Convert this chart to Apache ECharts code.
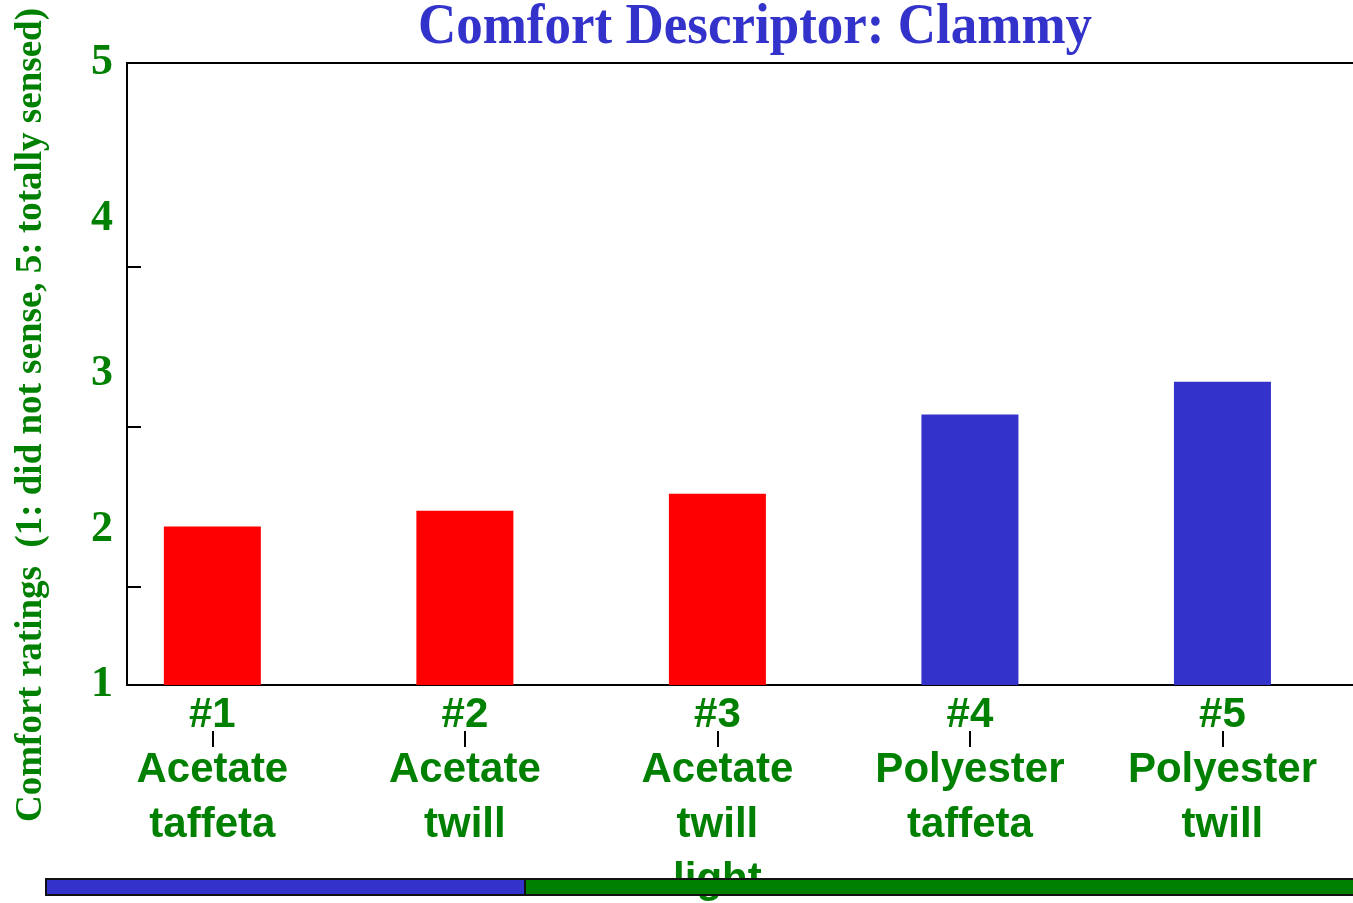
<!DOCTYPE html>
<html lang="en">
  <head>
    <meta charset="utf-8" />
    <title>Comfort Descriptor: Clammy</title>
    <script src="https://cdn.jsdelivr.net/npm/echarts@6/dist/echarts.min.js"></script>
    <style>
      html,
      body {
        margin: 0;
        padding: 0;
        background: #fff;
      }
      #main {
        width: 1353px;
        height: 903px;
      }
    </style>
  </head>
  <body>
    <div id="main"></div>
    <script>
      // fabrics
      var fabricNo = ["#1", "#2", "#3", "#4", "#5"];
      var fibre = ["Acetate", "Acetate", "Acetate", "Polyester", "Polyester"];
      var weave = ["taffeta", "twill", "twill\nlight", "taffeta", "twill"];
      // mean ratings
      var ratings = [2.02, 2.12, 2.23, 2.74, 2.95];
      // y axis
      var yLabels = [1, 2, 3, 4, 5];
      var yTickMarks = [1.63, 2.66, 3.69];

      var fibreColor = { Acetate: "#ff0000", Polyester: "#3333cc" };
      var green = "#008000";
      var positions = fabricNo.map(function (d, i) {
        return i + 1;
      });
      var xLabels = fabricNo.map(function (d, i) {
        return d + "\n" + fibre[i] + "\n" + weave[i];
      });

      var myChart = echarts.init(document.getElementById("main"));

      var xMin = 0.662;
      var xMax = 5.517;

      var option = {
        animation: false,
        grid: {
          left: 127,
          right: 0,
          top: 63,
          bottom: 218,
          outerBoundsMode: "none",
        },
        xAxis: [
          {
            type: "value",
            min: xMin,
            max: xMax,
            splitLine: { show: false },
            axisLine: { onZero: false, lineStyle: { color: "#000", width: 2 } },
            axisTick: { show: false },
            axisLabel: {
              customValues: positions,
              margin: 3,
              verticalAlign: "top",
              fontFamily: "Liberation Sans",
              fontWeight: "bold",
              fontSize: 42,
              lineHeight: 55,
              color: green,
              formatter: function (v) {
                return xLabels[Math.round(v) - 1] || "";
              },
            },
          },
          {
            // tick marks drawn lower, between the label lines
            type: "value",
            position: "bottom",
            offset: 46,
            min: xMin,
            max: xMax,
            splitLine: { show: false },
            axisLine: { show: false, onZero: false },
            axisLabel: { show: false },
            axisTick: {
              customValues: positions,
              length: 16,
              lineStyle: { color: "#000", width: 2 },
            },
          },
          {
            // top frame line
            type: "value",
            position: "top",
            min: xMin,
            max: xMax,
            splitLine: { show: false },
            axisLine: { onZero: false, lineStyle: { color: "#000", width: 2 } },
            axisLabel: { show: false },
            axisTick: { show: false },
          },
        ],
        yAxis: {
          type: "value",
          min: 1,
          max: 5,
          interval: 1,
          splitLine: { show: false },
          axisLine: { show: true, lineStyle: { color: "#000", width: 2 } },
          axisTick: {
            inside: true,
            length: 14,
            customValues: yTickMarks,
            lineStyle: { color: "#000", width: 2 },
          },
          axisLabel: {
            customValues: yLabels,
            margin: 14,
            fontFamily: "Liberation Serif",
            fontWeight: "bold",
            fontSize: 44,
            color: green,
          },
        },
        series: [
          {
            type: "bar",
            barWidth: 97,
            xAxisIndex: 0,
            data: ratings.map(function (v, i) {
              return {
                value: [positions[i], v],
                itemStyle: { color: fibreColor[fibre[i]] },
              };
            }),
          },
        ],
        graphic: [
          {
            // title, a little condensed like the original
            type: "text",
            x: 755,
            y: 0,
            scaleX: 0.93,
            style: {
              text: "Comfort Descriptor: Clammy",
              fontFamily: "Liberation Serif",
              fontWeight: "bold",
              fontSize: 57,
              fill: "#3333cc",
              align: "center",
              verticalAlign: "top",
            },
          },
          {
            type: "text",
            x: 31,
            y: 415,
            rotation: Math.PI / 2,
            style: {
              text: "Comfort ratings  (1: did not sense, 5: totally sensed)",
              fontFamily: "Liberation Serif",
              fontWeight: "bold",
              fontSize: 37,
              fill: green,
              align: "center",
              verticalAlign: "middle",
            },
          },
          {
            type: "rect",
            z: 100,
            shape: { x: 46, y: 879, width: 479, height: 16 },
            style: { fill: "#3333cc", stroke: "#111", lineWidth: 2 },
          },
          {
            type: "rect",
            z: 100,
            shape: { x: 525, y: 879, width: 840, height: 16 },
            style: { fill: green, stroke: "#111", lineWidth: 2 },
          },
        ],
      };

      myChart.setOption(option);
    </script>
  </body>
</html>
